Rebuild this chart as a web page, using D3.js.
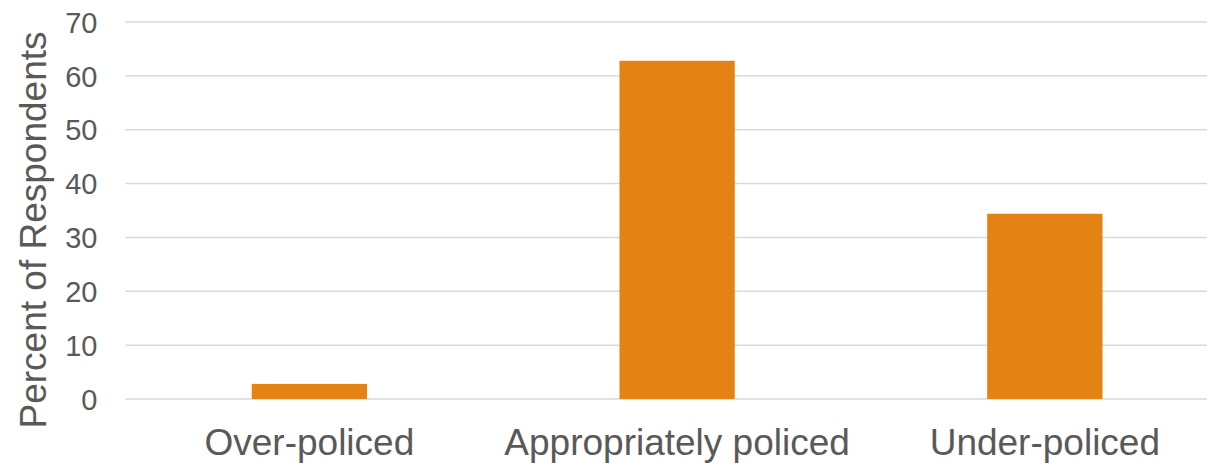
<!DOCTYPE html>
<html><head><meta charset="utf-8">
<script src="https://cdn.jsdelivr.net/npm/d3@7"></script>
<style>body{margin:0;background:#fff;}svg{display:block;font-family:"Liberation Sans",Arial,sans-serif;}</style>
</head><body>
<svg id="chart" width="1207" height="465"></svg>
<script>
const categories = ["Over-policed", "Appropriately policed", "Under-policed"];
const values = [2.8, 62.8, 34.4];
const yTicks = [0, 10, 20, 30, 40, 50, 60, 70];
const yLabel = "Percent of Respondents";

const svg = d3.select("#chart");
const x0 = 125.5, x1 = 1228.7, yTop = 22, yBot = 399;
const x = d3.scaleBand().domain(categories).range([x0, x1])
  .paddingInner(0.6865).paddingOuter(0.6865 / 2);
const y = d3.scaleLinear().domain([0, 70]).range([yBot, yTop]);

// gridlines
svg.append("g").selectAll("line").data(yTicks).join("line")
  .attr("x1", x0).attr("x2", 1207)
  .attr("y1", d => y(d)).attr("y2", d => y(d))
  .attr("stroke", "#d9d9d9").attr("stroke-width", 1.5);

// y tick labels
const yAxis = d3.axisLeft(y).tickValues(yTicks).tickSize(0).tickPadding(0);
const gy = svg.append("g").attr("transform", `translate(${x0 - 28},1)`).call(yAxis);
gy.select(".domain").remove();
gy.selectAll("text").attr("font-size", 29).attr("fill", "#595959")
  .attr("font-family", "Liberation Sans, Arial, sans-serif");

// bars
svg.append("g").selectAll("rect").data(values).join("rect")
  .attr("x", (d, i) => x(categories[i]))
  .attr("width", x.bandwidth())
  .attr("y", d => y(d))
  .attr("height", d => y(0) - y(d))
  .attr("fill", "#E48313");

// x labels
const xAxis = d3.axisBottom(x).tickSize(0).tickPadding(0);
const gx = svg.append("g").attr("transform", `translate(0,${yBot})`).call(xAxis);
gx.select(".domain").remove();
gx.selectAll("text").attr("font-size", 37).attr("fill", "#595959")
  .attr("dy", null).attr("y", 56)
  .attr("font-family", "Liberation Sans, Arial, sans-serif");

// y label
svg.append("text")
  .attr("transform", `translate(46,230) rotate(-90)`)
  .attr("text-anchor", "middle")
  .attr("font-size", 37).attr("fill", "#595959")
  .text(yLabel);
</script>
</body></html>
